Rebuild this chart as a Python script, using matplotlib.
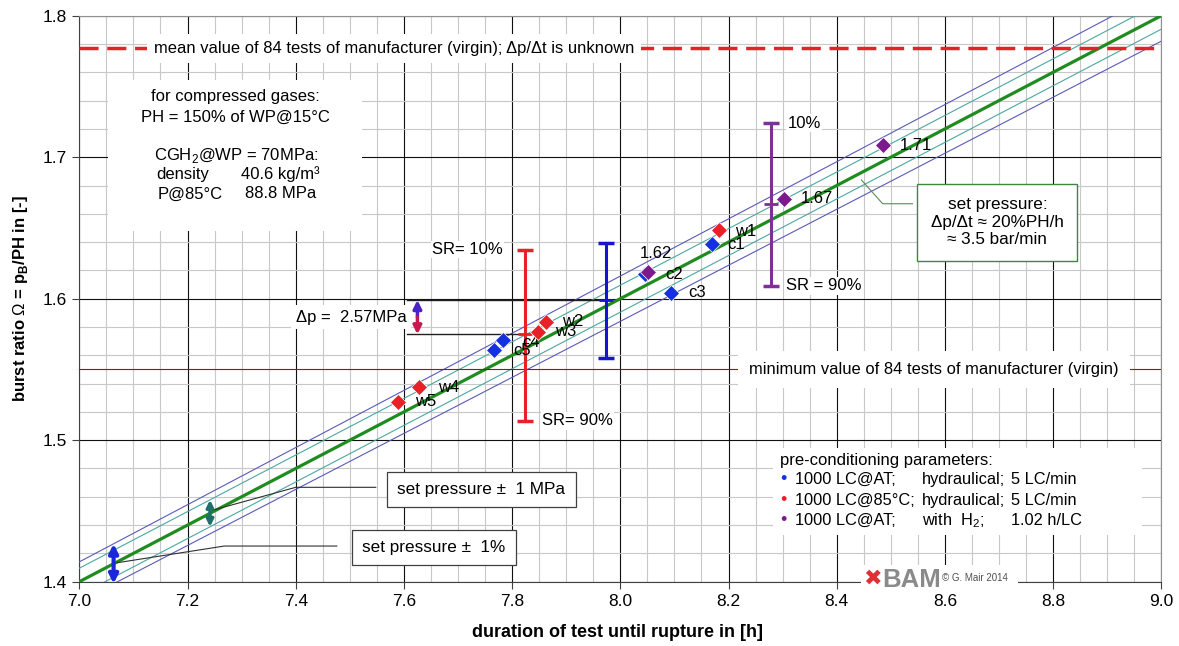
import numpy as np
import matplotlib.pyplot as plt
from matplotlib.patches import Rectangle
from matplotlib.ticker import MultipleLocator, FormatStrFormatter

plt.rcParams['font.family'] = ['Liberation Sans', 'DejaVu Sans']
plt.rcParams['mathtext.fontset'] = 'custom'
plt.rcParams['mathtext.rm'] = 'Liberation Sans'
plt.rcParams['mathtext.bf'] = 'Liberation Sans:bold'

# set pressure: burst ratio rises 20 % PH per hour
x_range = [7.0, 9.0]
ratio_start = 1.4
rate = 0.2
ph_mpa = 105.0          # PH = 150 % of 70 MPa
band_pct = 0.01         # set pressure +- 1 %
band_mpa = 1.0          # set pressure +- 1 MPa

# test results: duration [h], burst ratio [-]
c_labels = ['c1', 'c2', 'c3', 'c4', 'c5']
c_hours = [8.169, 8.046, 8.094, 7.783, 7.767]
c_ratio = [1.6387, 1.6172, 1.6042, 1.5708, 1.5637]

w_labels = ['w1', 'w2', 'w3', 'w4', 'w5']
w_hours = [8.183, 7.862, 7.848, 7.628, 7.590]
w_ratio = [1.6483, 1.5837, 1.5767, 1.5378, 1.5268]

h_labels = ['1.62', '1.67', '1.71']
h_hours = [8.0505, 8.303, 8.486]
h_ratio = [1.6191, 1.6705, 1.7086]

# scatter ranges SR 10 % .. 90 %
sr_hours = [7.823, 7.9736, 8.279]
sr_low = [1.5136, 1.5579, 1.6092]
sr_mid = [1.5748, 1.5991, 1.6669]
sr_high = [1.6347, 1.6396, 1.7240]
delta_p = 2.57

mean_manuf = 1.777
min_manuf = 1.55

BLUE = '#1530e0'
RED = '#e82028'
PURPLE = '#7a1a8c'
GREEN = '#1f8c1f'

fig = plt.figure(figsize=(11.79, 6.46), dpi=100)
ax = fig.add_axes([79.3 / 1179, 1 - 581.7 / 646, 1082 / 1179, 566 / 646])
ax.set_xlim(7.0, 9.0)
ax.set_ylim(1.4, 1.8)

ax.xaxis.set_major_locator(MultipleLocator(0.2))
ax.xaxis.set_minor_locator(MultipleLocator(0.05))
ax.yaxis.set_major_locator(MultipleLocator(0.1))
ax.yaxis.set_minor_locator(MultipleLocator(0.02))
ax.xaxis.set_major_formatter(FormatStrFormatter('%.1f'))
ax.yaxis.set_major_formatter(FormatStrFormatter('%.1f'))
ax.tick_params(which='major', direction='out', length=5, labelsize=12.5, color='#404040', pad=4)
ax.tick_params(which='minor', length=0)
ax.set_axisbelow(True)
ax.grid(which='minor', color='#c8c8c8', lw=0.8)
ax.grid(which='major', color='#101010', lw=0.8)
for side in ['left', 'bottom']:
    ax.spines[side].set_color('#404040')
for side in ['top', 'right']:
    ax.spines[side].set_color('#909090')

# set pressure line with tolerance bands
x = np.array(x_range)
g = ratio_start + rate * (x - x_range[0])
for s in (1, -1):
    ax.plot(x, g * (1 + s * band_pct), color='#5a5ab8', lw=0.8, zorder=3)
    ax.plot(x, g + s * band_mpa / ph_mpa, color='#4aa8a0', lw=0.8, zorder=3)
ax.plot(x, g, color=GREEN, lw=2.3, zorder=3)

# manufacturer lines
ax.axhline(mean_manuf, color=RED, lw=2.5, dashes=(5.5, 2.5), zorder=3)
ax.axhline(min_manuf, color='#c00000', lw=0.8, zorder=3)
ax.text(7.5816, mean_manuf, 'mean value of 84 tests of manufacturer (virgin); \u0394p/\u0394t is unknown',
        fontsize=11.9, ha='center', va='center', zorder=4,
        bbox=dict(facecolor='white', edgecolor='none', pad=5))
ax.text(8.58, min_manuf, 'minimum value of 84 tests of manufacturer (virgin)',
        fontsize=11.9, ha='center', va='center', zorder=4,
        bbox=dict(facecolor='white', edgecolor='none', pad=8))

# scatter range bars
for hx, lo, mid, hi, col in zip(sr_hours, sr_low, sr_mid, sr_high, [RED, '#1515d0', '#7b3294']):
    ax.plot([hx, hx], [lo, hi], color=col, lw=2.2, zorder=4)
    ax.plot([hx, hx], [lo, hi], ls='none', marker='_', ms=11, mew=2.5, color=col, zorder=4)
    ax.plot([hx], [mid], ls='none', marker='_', ms=10, mew=2.0, color=col, zorder=4)

lbl = dict(fontsize=12, va='center', zorder=4, bbox=dict(facecolor='white', edgecolor='none', pad=1))
ax.text(sr_hours[0] - 0.04, sr_high[0], 'SR= 10%', ha='right', **lbl)
ax.text(sr_hours[0] + 0.032, sr_low[0], 'SR= 90%', ha='left', **lbl)
ax.text(sr_hours[2] + 0.03, sr_high[2], '10%', ha='left', **lbl)
ax.text(sr_hours[2] + 0.028, sr_low[2], 'SR = 90%', ha='left', **lbl)

# delta p between the two ranges
ax.plot([7.606, sr_hours[1]], [sr_mid[1], sr_mid[1]], color='#202020', lw=1, zorder=3)
ax.plot([7.606, sr_hours[0]], [sr_mid[0], sr_mid[0]], color='#202020', lw=1, zorder=3)
dp_x = 7.625
dp_c = (sr_mid[0] + sr_mid[1]) / 2
ax.annotate('', xy=(dp_x, sr_mid[1]), xytext=(dp_x, dp_c),
            arrowprops=dict(arrowstyle='-|>', color='#4a22c8', lw=2.5, mutation_scale=12, shrinkA=0, shrinkB=0), zorder=5)
ax.annotate('', xy=(dp_x, sr_mid[0]), xytext=(dp_x, dp_c),
            arrowprops=dict(arrowstyle='-|>', color='#c81850', lw=2.5, mutation_scale=12, shrinkA=0, shrinkB=0), zorder=5)
ax.text(7.6045, dp_c, '\u0394p =  %.2fMPa' % delta_p, fontsize=12, ha='right', va='center', zorder=4,
        bbox=dict(facecolor='white', edgecolor='none', pad=3))

# tolerance arrows
a1 = 7.0634
g1 = ratio_start + rate * (a1 - x_range[0])
ax.annotate('', xy=(a1, g1 * (1 + band_pct)), xytext=(a1, g1 * (1 - band_pct)), annotation_clip=False,
            arrowprops=dict(arrowstyle='<|-|>', color='#1a28d8', lw=3, mutation_scale=13, shrinkA=0, shrinkB=0), zorder=5)
a2 = 7.2416
g2 = ratio_start + rate * (a2 - x_range[0])
ax.annotate('', xy=(a2, g2 + band_mpa / ph_mpa), xytext=(a2, g2 - band_mpa / ph_mpa),
            arrowprops=dict(arrowstyle='<|-|>', color='#20706a', lw=2.5, mutation_scale=10, shrinkA=0, shrinkB=0), zorder=5)

ax.plot([7.548, 7.4, 7.2483], [1.4667, 1.4667, 1.4507], color='#303030', lw=0.8, zorder=4)
ax.plot([7.476, 7.268, 7.0699], [1.4252, 1.4252, 1.4134], color='#303030', lw=0.8, zorder=4)
box = dict(facecolor='white', edgecolor='#404040', lw=0.9, boxstyle='square,pad=0.6')
ax.text(7.743, 1.4653, 'set pressure \u00b1  1 MPa', fontsize=12.3, ha='center', va='center', zorder=5,
        bbox=box)
ax.text(7.6557, 1.424, 'set pressure \u00b1  1%', fontsize=12.3, ha='center', va='center', zorder=5,
        bbox=box)

# set pressure box
ax.plot([8.54, 8.485, 8.4457], [1.6671, 1.6671, 1.6839], color='#5a8a5a', lw=0.8, zorder=4)
ax.text(8.697, 1.6541, 'set pressure:\n\u0394p/\u0394t \u2248 20%PH/h\n\u2248 3.5 bar/min', fontsize=12.3,
        ha='center', va='center', linespacing=1.2, zorder=5,
        bbox=dict(facecolor='white', edgecolor='#3a8a3a', lw=1, boxstyle='square,pad=0.8'))

# info box top left
ax.add_patch(Rectangle((7.053, 1.648), 0.47, 0.1064, facecolor='white', edgecolor='none', zorder=2))
ax.text(7.288, 1.7428, 'for compressed gases:', fontsize=12, ha='center', va='center', zorder=4)
ax.text(7.288, 1.7282, 'PH = 150% of WP@15\u00b0C', fontsize=12, ha='center', va='center', zorder=4)
ax.text(7.138, 1.7011, 'CGH$_2$@WP = 70MPa:', fontsize=12, ha='left', va='center', zorder=4)
ax.text(7.142, 1.6879, 'density', fontsize=12, ha='left', va='center', zorder=4)
ax.text(7.299, 1.6879, '40.6 kg/m\u00b3', fontsize=12, ha='left', va='center', zorder=4)
ax.text(7.144, 1.6740, 'P@85\u00b0C', fontsize=12, ha='left', va='center', zorder=4)
ax.text(7.306, 1.6740, '88.8 MPa', fontsize=12, ha='left', va='center', zorder=4)

# data points
ax.plot(c_hours, c_ratio, ls='none', marker='D', ms=8.5, color=BLUE, mec='white', mew=0.5, zorder=6)
ax.plot(w_hours, w_ratio, ls='none', marker='D', ms=8.5, color=RED, mec='white', mew=0.5, zorder=6)
ax.plot(h_hours, h_ratio, ls='none', marker='D', ms=8.5, color=PURPLE, mec='white', mew=0.5, zorder=6)

c_off = [(16, -1), (20, 0), (17, 0), (19, -2), (19, 0)]
w_off = [(16, -1), (16, 0), (17, 0), (19, -1), (17, 1)]
h_off = [(-8, 18), (17, 0), (17, 0)]
for labs, hx, ry, offs in [(c_labels, c_hours, c_ratio, c_off), (w_labels, w_hours, w_ratio, w_off),
                          (h_labels, h_hours, h_ratio, h_off)]:
    for t, px, py, (dx, dy) in zip(labs, hx, ry, offs):
        ax.annotate(t, (px, py), xytext=(dx, dy), textcoords='offset pixels', fontsize=12,
                    ha='left', va='center', zorder=4)

# legend
ax.add_patch(Rectangle((8.282, 1.433), 0.683, 0.0615, facecolor='white', edgecolor='none', zorder=2))
ax.text(8.295, 1.4854, 'pre-conditioning parameters:', fontsize=12, ha='left', va='center', zorder=4)
rows = [(BLUE, '1000 LC@AT;', 'hydraulical;', '5 LC/min'),
        (RED, '1000 LC@85\u00b0C;', 'hydraulical;', '5 LC/min'),
        (PURPLE, '1000 LC@AT;', 'with  H$_2$;', '1.02 h/LC')]
for i, (col, t1, t2, t3) in enumerate(rows):
    yy = 1.4720 - i * 0.0145
    ax.text(8.2951, yy, '\u2022', color=col, fontsize=13, ha='left', va='center', zorder=4)
    ax.text(8.3229, yy, t1, fontsize=11.8, ha='left', va='center', zorder=4)
    ax.text(8.5576, yy, t2, fontsize=11.8, ha='left', va='center', zorder=4)
    ax.text(8.7230, yy, t3, fontsize=11.8, ha='left', va='center', zorder=4)

# BAM logo
ax.add_patch(Rectangle((8.445, 1.391), 0.29, 0.021, facecolor='white', edgecolor='none', zorder=7, clip_on=False))
ax.text(8.4655, 1.402, '\u2716', color='#e03030', fontsize=16, ha='center', va='center', zorder=8,
        family=['DejaVu Sans'])
ax.text(8.484, 1.4015, 'BAM', color='#8a8a8a', fontsize=18.5, fontweight='bold', ha='left', va='center', zorder=8)
ax.text(8.594, 1.4025, '\u00a9 G. Mair 2014', color='#505050', fontsize=7, ha='left', va='center', zorder=8)

ax.set_xlabel('duration of test until rupture in [h]', fontsize=13, fontweight='bold')
ax.set_ylabel(r'burst ratio $\Omega$ = p$_\mathbf{B}$/PH in [-]', fontsize=12, fontweight='bold')
ax.xaxis.set_label_coords(0.497, -0.075)
ax.yaxis.set_label_coords(-0.046, 0.5)

fig.savefig('out.png', dpi=100)
